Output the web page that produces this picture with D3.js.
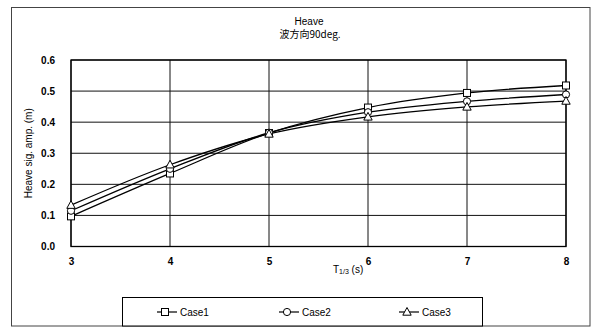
<!DOCTYPE html>
<html>
<head>
<meta charset="utf-8">
<script src="https://cdn.jsdelivr.net/npm/d3@7"></script>
<style>
  html, body { margin: 0; padding: 0; background: #fff; }
  svg { display: block; }
  text { font-family: "Liberation Sans", Arial, sans-serif; fill: #000; }
</style>
</head>
<body>
<svg id="chart" width="600" height="332"></svg>
<script>
// Significant heave amplitude vs. significant wave period, beam seas
const periods = [3, 4, 5, 6, 7, 8];
const case1 = [0.097, 0.235, 0.365, 0.447, 0.494, 0.518];
const case2 = [0.115, 0.250, 0.366, 0.432, 0.467, 0.489];
const case3 = [0.133, 0.263, 0.362, 0.417, 0.449, 0.468];
const seriesNames = ["Case1", "Case2", "Case3"];
const markerShapes = ["square", "circle", "triangle"];
const yTicks = [0.0, 0.1, 0.2, 0.3, 0.4, 0.5, 0.6];
const xTicks = [3, 4, 5, 6, 7, 8];

const svg = d3.select("#chart");
const plot = { left: 71, right: 566, top: 60, bottom: 246.5 };

const x = d3.scaleLinear().domain([3, 8]).range([plot.left, plot.right]);
const y = d3.scaleLinear().domain([0, 0.6]).range([plot.bottom, plot.top]);

// outer chart frame
svg.append("rect")
  .attr("x", 11.5).attr("y", 7.5).attr("width", 578.5).attr("height", 318.5)
  .attr("fill", "none").attr("stroke", "#444").attr("stroke-width", 1);

// titles
svg.append("text").attr("x", 309).attr("y", 25)
  .attr("text-anchor", "middle").attr("font-size", 10).text("Heave");
svg.append("text").attr("x", 310).attr("y", 38)
  .attr("text-anchor", "middle").attr("font-size", 10)
  .style("font-family", "'Noto Sans CJK JP', 'Liberation Sans', sans-serif")
  .text("波方向90deg.");

// gridlines
svg.append("g")
  .selectAll("line.h").data(yTicks).join("line")
  .attr("x1", plot.left).attr("x2", plot.right)
  .attr("y1", d => y(d)).attr("y2", d => y(d))
  .attr("stroke", "#111").attr("stroke-width", 1);
svg.append("g")
  .selectAll("line.v").data(xTicks).join("line")
  .attr("y1", plot.top).attr("y2", plot.bottom)
  .attr("x1", d => x(d)).attr("x2", d => x(d))
  .attr("stroke", "#111").attr("stroke-width", 1);

// plot border
svg.append("rect")
  .attr("x", plot.left).attr("y", plot.top)
  .attr("width", plot.right - plot.left).attr("height", plot.bottom - plot.top)
  .attr("fill", "none").attr("stroke", "#000").attr("stroke-width", 1.3);

// y axis
const yAxis = d3.axisLeft(y).tickValues(yTicks).tickFormat(d3.format(".1f")).tickSize(0).tickPadding(16);
const gy = svg.append("g").attr("transform", `translate(${plot.left},0)`).call(yAxis);
gy.select(".domain").remove();
gy.selectAll("text").attr("font-size", 10).attr("font-weight", "bold")
  .style("font-family", "'Liberation Sans', Arial, sans-serif");

// x axis
const xAxis = d3.axisBottom(x).tickValues(xTicks).tickFormat(d3.format("d")).tickSize(0).tickPadding(11);
const gx = svg.append("g").attr("transform", `translate(0,${plot.bottom})`).call(xAxis);
gx.select(".domain").remove();
gx.selectAll("text").attr("font-size", 10).attr("font-weight", "bold")
  .style("font-family", "'Liberation Sans', Arial, sans-serif");

// axis titles
svg.append("text")
  .attr("transform", `translate(32,${(plot.top + plot.bottom) / 2}) rotate(-90)`)
  .attr("text-anchor", "middle").attr("font-size", 10)
  .text("Heave sig. amp. (m)");
const xt = svg.append("text").attr("x", 333).attr("y", 273).attr("font-size", 10);
xt.append("tspan").text("T");
xt.append("tspan").attr("font-size", 7).attr("dy", 1).text("1/3");
xt.append("tspan").attr("dy", -1).text(" (s)");

// series
const allSeries = [case1, case2, case3];
const line = d3.line()
  .x((d, i) => x(periods[i]))
  .y(d => y(d))
  .curve(d3.curveCatmullRom.alpha(0.5));

function drawMarker(g, shape, cx, cy) {
  if (shape === "square") {
    g.append("rect").attr("x", cx - 3.5).attr("y", cy - 3.5).attr("width", 7).attr("height", 7)
      .attr("fill", "#fff").attr("stroke", "#000").attr("stroke-width", 1);
  } else if (shape === "circle") {
    g.append("circle").attr("cx", cx).attr("cy", cy).attr("r", 3.6)
      .attr("fill", "#fff").attr("stroke", "#000").attr("stroke-width", 1);
  } else {
    g.append("path")
      .attr("d", `M${cx},${cy - 4.5}L${cx + 4.2},${cy + 3.2}L${cx - 4.2},${cy + 3.2}Z`)
      .attr("fill", "#fff").attr("stroke", "#000").attr("stroke-width", 1);
  }
}

allSeries.forEach((vals, s) => {
  svg.append("path").datum(vals).attr("d", line)
    .attr("fill", "none").attr("stroke", "#000").attr("stroke-width", 1.3);
});
allSeries.forEach((vals, s) => {
  const g = svg.append("g");
  vals.forEach((v, i) => drawMarker(g, markerShapes[s], x(periods[i]), y(v)));
});

// legend
const legend = { x: 122.5, y: 297.5, w: 360, h: 28.5 };
svg.append("rect")
  .attr("x", legend.x).attr("y", legend.y).attr("width", legend.w).attr("height", legend.h)
  .attr("fill", "#fff").attr("stroke", "#000").attr("stroke-width", 1);
const itemX = [157, 279, 399];
seriesNames.forEach((name, s) => {
  const g = svg.append("g");
  const ly = 312;
  g.append("line").attr("x1", itemX[s]).attr("x2", itemX[s] + 20)
    .attr("y1", ly).attr("y2", ly).attr("stroke", "#000").attr("stroke-width", 1.2);
  drawMarker(g, markerShapes[s], itemX[s] + 8, ly);
  g.append("text").attr("x", itemX[s] + 23).attr("y", ly + 3.5)
    .attr("font-size", 10).text(name);
});
</script>
</body>
</html>
